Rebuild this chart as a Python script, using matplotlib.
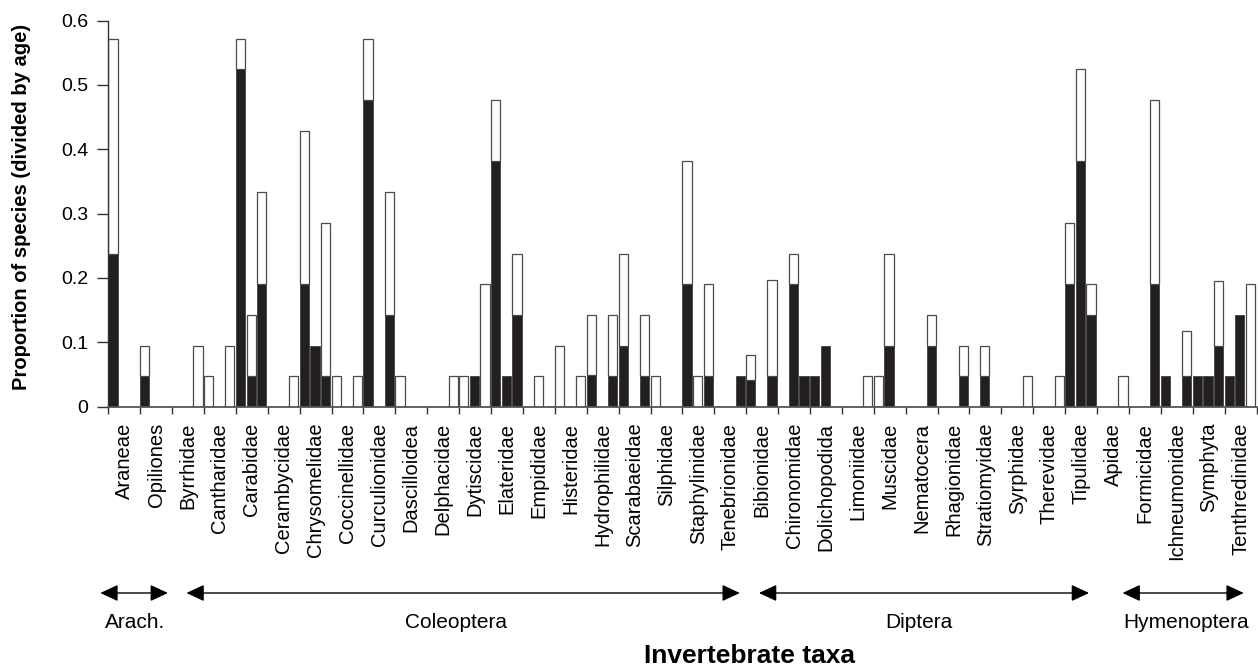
import matplotlib
matplotlib.use("Agg")
import matplotlib.pyplot as plt
import numpy as np

plt.rcParams['font.family'] = ['Liberation Sans', 'DejaVu Sans']

# Taxa along the x axis
taxa = ["Araneae", "Opiliones", "Byrrhidae", "Cantharidae", "Carabidae",
        "Cerambycidae", "Chrysomelidae", "Coccinellidae", "Curculionidae",
        "Dascilloidea", "Delphacidae", "Dytiscidae", "Elateridae", "Empididae",
        "Histeridae", "Hydrophilidae", "Scarabaeidae", "Silphidae",
        "Staphylinidae", "Tenebrionidae", "Bibionidae", "Chironomidae",
        "Dolichopodida", "Limoniidae", "Muscidae", "Nematocera", "Rhagionidae",
        "Stratiomyidae", "Syrphidae", "Therevidae", "Tipulidae", "Apidae",
        "Formicidae", "Ichneumonidae", "Symphyta", "Tenthredinidae"]

# three age classes per taxon: dark (lower) and light (upper) parts of each bar
dark_age1 = [0.238, 0.048, 0, 0, 0.524, 0, 0.190, 0, 0.476, 0, 0, 0, 0.381, 0,
             0, 0.050, 0.095, 0, 0.190, 0, 0.042, 0, 0.048, 0, 0, 0, 0, 0, 0, 0,
             0.190, 0, 0, 0.048, 0.048, 0.048]
light_age1 = [0.333, 0.047, 0, 0.048, 0.047, 0, 0.239, 0.048, 0.095, 0.048, 0,
              0.048, 0.095, 0, 0.095, 0.093, 0.143, 0.048, 0.191, 0, 0.039, 0,
              0, 0, 0.048, 0, 0, 0, 0, 0, 0.096, 0, 0, 0, 0, 0]
dark_age2 = [0, 0, 0, 0, 0.048, 0, 0.095, 0, 0, 0, 0, 0.048, 0.048, 0, 0, 0, 0,
             0, 0, 0, 0, 0.190, 0.095, 0, 0.095, 0, 0, 0.048, 0, 0, 0.381, 0, 0,
             0, 0.048, 0.143]
light_age2 = [0, 0, 0, 0, 0.095, 0, 0, 0, 0, 0, 0, 0, 0, 0.048, 0, 0, 0, 0,
              0.048, 0, 0, 0.048, 0, 0, 0.143, 0, 0, 0.047, 0, 0, 0.143, 0, 0,
              0, 0, 0]
dark_age3 = [0, 0, 0, 0, 0.190, 0, 0.048, 0, 0.143, 0, 0, 0, 0.143, 0, 0,
             0.048, 0.048, 0, 0.048, 0.048, 0.048, 0.048, 0, 0, 0, 0.095, 0.048,
             0, 0, 0, 0.143, 0, 0.190, 0.048, 0.095, 0]
light_age3 = [0, 0, 0.095, 0.095, 0.143, 0.048, 0.238, 0.048, 0.190, 0, 0.048,
              0.190, 0.095, 0, 0.048, 0.095, 0.095, 0, 0.142, 0, 0.149, 0, 0,
              0.048, 0, 0.048, 0.047, 0, 0.048, 0.048, 0.047, 0.048, 0.286,
              0.070, 0.100, 0.190]

# taxonomic groups below the axis
group_names = ["Arach.", "Coleoptera", "Diptera", "Hymenoptera"]
group_spans = [(-0.25, 1.87), (2.45, 19.8), (20.4, 30.75), (31.8, 35.6)]
group_label_x = [0.85, 10.9, 25.4, 33.8]

W, H = 1258, 670
fig = plt.figure(figsize=(W / 100, H / 100), dpi=100)
ax = fig.add_axes([108.3 / W, 1 - 406.7 / H, (1256.5 - 108.3) / W, (406.7 - 20.5) / H])

dark_col = '#231f20'
edge_col = '#4a4a4a'
idx = np.arange(len(taxa))
ages = [(dark_age1, light_age1), (dark_age2, light_age2), (dark_age3, light_age3)]
for j, (dark, light) in enumerate(ages):
    dark = np.array(dark)
    light = np.array(light)
    x = idx + j / 3
    m = dark > 0
    ax.bar(x[m], dark[m], width=0.29, align='edge', color=dark_col,
           edgecolor=edge_col, linewidth=0.7)
    m = light > 0
    ax.bar(x[m], light[m], bottom=dark[m], width=0.29, align='edge',
           color='white', edgecolor=edge_col, linewidth=0.9)

ax.set_xlim(0, len(taxa))
ax.set_ylim(0, 0.6)
ax.set_yticks([0, 0.1, 0.2, 0.3, 0.4, 0.5, 0.6])
ax.set_yticklabels(["0", "0.1", "0.2", "0.3", "0.4", "0.5", "0.6"])
ax.tick_params(axis='y', length=8, width=1, pad=6.5, labelsize=14, color='#333333')

ax.set_xticks(np.arange(len(taxa) + 1))
ax.set_xticklabels([])
ax.set_xticks(idx + 0.5, minor=True)
ax.set_xticklabels(taxa, minor=True, rotation=90, fontsize=14.5)
ax.tick_params(axis='x', which='major', length=5, width=1, color='#333333')
ax.tick_params(axis='x', which='minor', length=0, pad=11.5)

for s in ['top', 'right']:
    ax.spines[s].set_visible(False)
ax.spines['left'].set_color('#333333')
ax.spines['bottom'].set_color('#555555')
ax.spines['left'].set_linewidth(1)
ax.spines['bottom'].set_linewidth(1.3)

fig.text(22 / W, 1 - 207 / H, "Proportion of species (divided by age)",
         rotation=90, ha='center', va='center', fontsize=14.5, fontweight='bold')

# group arrows below the taxon labels
for name, (x0, x1), lx in zip(group_names, group_spans, group_label_x):
    ax.annotate("", xy=(x1, 1 - 593 / H), xytext=(x0, 1 - 593 / H),
                xycoords=('data', 'figure fraction'),
                textcoords=('data', 'figure fraction'),
                arrowprops=dict(arrowstyle='<|-|>,head_length=0.9,head_width=0.42',
                                color='black', lw=1, mutation_scale=12,
                                shrinkA=0, shrinkB=0))
    ax.annotate(name, xy=(lx, 1 - 622 / H), xycoords=('data', 'figure fraction'),
                ha='center', va='center', fontsize=15)

fig.text(749 / W, 1 - 656 / H, "Invertebrate taxa", ha='center', va='center',
         fontsize=19, fontweight='bold')

fig.savefig("out.png", dpi=100)
